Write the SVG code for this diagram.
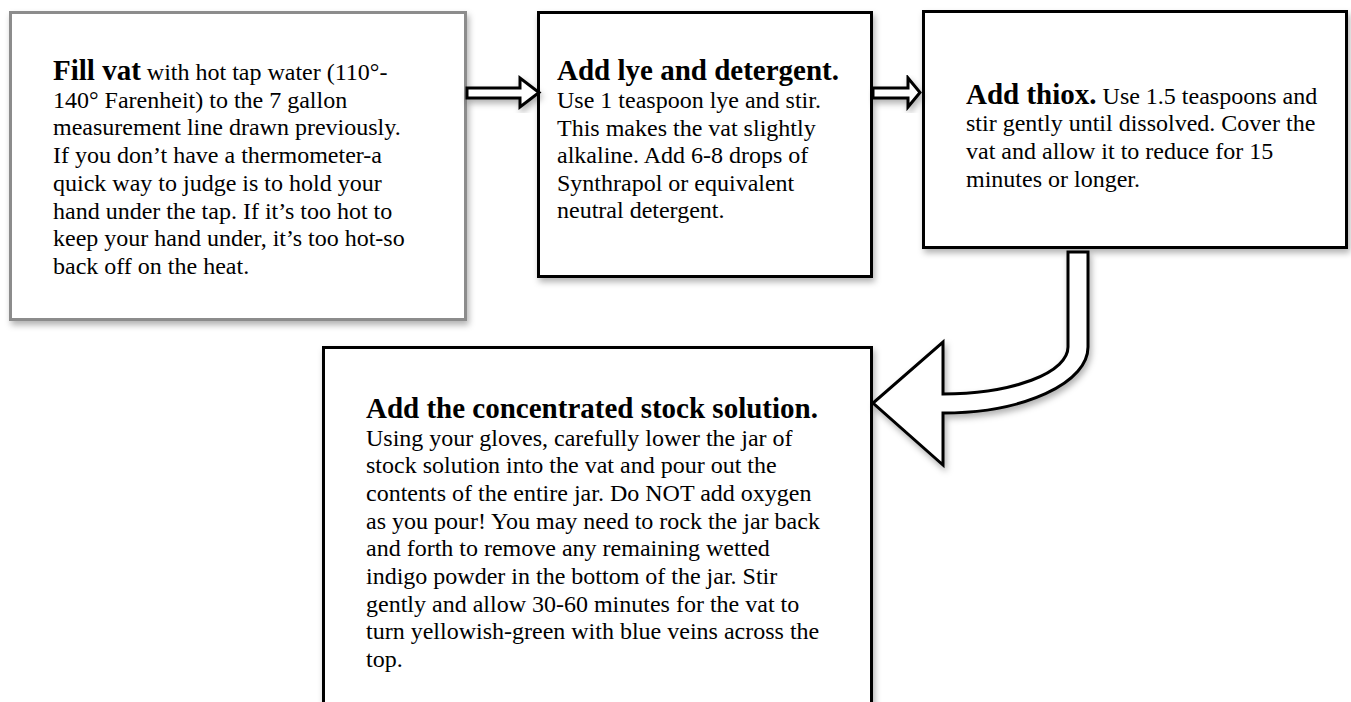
<svg xmlns="http://www.w3.org/2000/svg" width="1351" height="702" viewBox="0 0 1351 702">
<defs>
<filter id="sh" x="-10%" y="-10%" width="130%" height="130%">
<feDropShadow dx="2" dy="4" stdDeviation="3" flood-color="#000" flood-opacity="0.3"/>
</filter>
<style>
.box{fill:#fff;stroke:#000;stroke-width:3;filter:url(#sh)}
.gray{stroke:#8c8c8c}
.arr{fill:#fff;stroke:#000;stroke-width:3;stroke-linejoin:miter;filter:url(#sh)}
text{font-family:"Liberation Serif","Times New Roman",serif;font-size:24px;fill:#000}
.b{font-weight:bold;font-size:29px}
</style>
</defs>
<rect width="1351" height="702" fill="#fff"/>
<g id="node-fill">
<rect class="box gray" x="10.5" y="12.5" width="455" height="307"/>
<text x="53" y="80"><tspan class="b">Fill vat</tspan> with hot tap water (110°-</text>
<text x="53" y="107.7">140° Farenheit) to the 7 gallon</text>
<text x="53" y="135.4">measurement line drawn previously.</text>
<text x="53" y="163.1">If you don’t have a thermometer-a</text>
<text x="53" y="190.9">quick way to judge is to hold your</text>
<text x="53" y="218.6">hand under the tap. If it’s too hot to</text>
<text x="53" y="246.3">keep your hand under, it’s too hot-so</text>
<text x="53" y="274">back off on the heat.</text>
</g>
<g id="node-lye">
<rect class="box" x="538.5" y="12.5" width="333" height="264"/>
<text class="b" x="557" y="80">Add lye and detergent.</text>
<text x="557" y="108">Use 1 teaspoon lye and stir.</text>
<text x="557" y="135.5">This makes the vat slightly</text>
<text x="557" y="163">alkaline. Add 6-8 drops of</text>
<text x="557" y="190.5">Synthrapol or equivalent</text>
<text x="557" y="218">neutral detergent.</text>
</g>
<g id="node-thiox">
<rect class="box" x="923.5" y="11.5" width="423" height="236"/>
<text x="966" y="103.5"><tspan class="b">Add thiox.</tspan> Use 1.5 teaspoons and</text>
<text x="966" y="131.3">stir gently until dissolved. Cover the</text>
<text x="966" y="159">vat and allow it to reduce for 15</text>
<text x="966" y="187">minutes or longer.</text>
</g>
<g id="node-stock">
<rect class="box" x="323.5" y="347.5" width="548" height="380"/>
<text class="b" x="366" y="418">Add the concentrated stock solution.</text>
<text x="366" y="445.7">Using your gloves, carefully lower the jar of</text>
<text x="366" y="473.3">stock solution into the vat and pour out the</text>
<text x="366" y="501">contents of the entire jar. Do NOT add oxygen</text>
<text x="366" y="528.7">as you pour! You may need to rock the jar back</text>
<text x="366" y="556.3">and forth to remove any remaining wetted</text>
<text x="366" y="584">indigo powder in the bottom of the jar. Stir</text>
<text x="366" y="611.7">gently and allow 30-60 minutes for the vat to</text>
<text x="366" y="639.3">turn yellowish-green with blue veins across the</text>
<text x="366" y="667">top.</text>
</g>
<g id="connectors">
<path class="arr" d="M467 88 L520 88 L520 78 L539 92.5 L520 107 L520 98 L467 98 Z"/>
<path class="arr" d="M873 88 L908 88 L908 78 L920 92.5 L908 107 L908 98 L873 98 Z"/>
<path class="arr" d="M1068 252 L1068 347 A125 47 0 0 1 943 394 L943 342 L873 403 L943 465 L943 413 A145 66 0 0 0 1088 347 L1088 252 Z"/>
</g>
</svg>
